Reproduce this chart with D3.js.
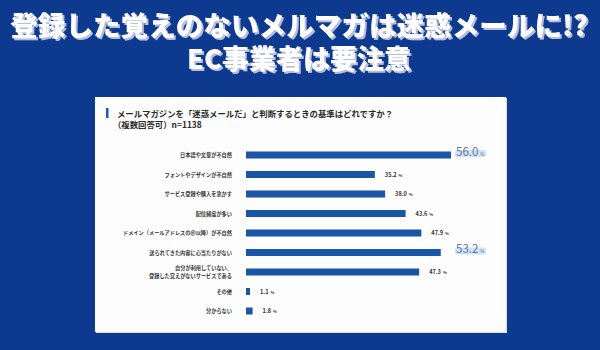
<!DOCTYPE html>
<html><head><meta charset="utf-8">
<script src="https://cdn.jsdelivr.net/npm/d3@7"></script>
<style>
html,body{margin:0;padding:0;background:#0d3a8e;}
svg{display:block;font-family:"Noto Sans CJK JP","Noto Sans",sans-serif;}
</style></head>
<body><svg id="c" width="600" height="350"></svg>
<script>
const titleLines = ["登録した覚えのないメルマガは迷惑メールに!?", "EC事業者は要注意"];
const questionLines = ["メールマガジンを「迷惑メールだ」と判断するときの基準はどれですか？", "（複数回答可）n=1138"];
const categories = [
  ["日本語や文章が不自然"],
  ["フォントやデザインが不自然"],
  ["サービス登録や購入を急かす"],
  ["配信頻度が多い"],
  ["ドメイン（メールアドレスの＠以降）が不自然"],
  ["送られてきた内容に心当たりがない"],
  ["自分が利用していない、", "登録した覚えがないサービスである"],
  ["その他"],
  ["分からない"]
];
const values = [56.0, 35.2, 38.0, 43.6, 47.9, 53.2, 47.3, 1.1, 1.8];
const highlighted = [true, false, false, false, false, true, false, false, false];

const svg = d3.select("#c");
const defs = svg.append("defs");
const f = defs.append("filter").attr("id","sh").attr("x","-5%").attr("y","-20%").attr("width","110%").attr("height","150%");
f.append("feDropShadow").attr("dx",2).attr("dy",2).attr("stdDeviation",0.4)
  .attr("flood-color","#b5bde0").attr("flood-opacity",1);

svg.append("rect").attr("width",600).attr("height",350).attr("fill","#0d3a8e");

// title
const tg = svg.append("g");
titleLines.forEach((t,i)=>{
  const y = [36, 69][i];
  tg.append("text").attr("x",299).attr("y",y).attr("text-anchor","middle")
    .attr("font-size",[27.6,27][i]).attr("font-weight",900).attr("fill","#ffffff")
    .attr("filter","url(#sh)").text(t);
});

// panel
svg.append("rect").attr("x",96).attr("y",98).attr("width",411).attr("height",235).attr("fill","#d9dde6");
svg.append("rect").attr("x",95).attr("y",97).attr("width",411).attr("height",235).attr("fill","#fdfdfd");
svg.append("rect").attr("x",106).attr("y",108).attr("width",2.5).attr("height",10).attr("fill","#1b5aa8");
questionLines.forEach((t,i)=>{
  svg.append("text").attr("x", i===0?117:113).attr("y",117+i*10.5)
    .attr("font-size",8.4).attr("font-weight",700).attr("fill","#2a2a2a").text(t);
});

const x = d3.scaleLinear().domain([0, 56]).range([246, 451]);
const y = d3.scaleBand().domain(d3.range(values.length)).range([145.25, 320.75])
  .paddingInner(0.64).paddingOuter(0.32);

const g = svg.append("g");
g.selectAll("rect.bar").data(values).join("rect").attr("class","bar")
  .attr("x", x(0)).attr("y",(d,i)=>y(i)).attr("width",d=>x(d)-x(0)).attr("height",y.bandwidth())
  .attr("fill","#1b55a6");

// category labels
categories.forEach((lines,i)=>{
  const cy = y(i)+y.bandwidth()/2;
  const t = g.append("text").attr("x",232).attr("text-anchor","end")
    .attr("font-size",5.2).attr("font-weight",700).attr("fill","#333");
  lines.forEach((l,j)=>{
    t.append("tspan").attr("x",232).attr("y", cy + 2 + (j-(lines.length-1)/2)*8).text(l);
  });
});

// value labels
const xMax = x(d3.max(values));
values.forEach((v,i)=>{
  const cy = y(i)+y.bandwidth()/2;
  if(highlighted[i]){
    const lx = xMax + 5;
    g.append("rect").attr("x",lx-1).attr("y",cy-5).attr("width",31).attr("height",7)
      .attr("fill","#d3e3f4").attr("rx",2);
    const t = g.append("text").attr("x",lx).attr("y",cy+0.5).attr("font-size",11.5)
      .attr("fill","#5b78a8");
    t.append("tspan").text(v.toFixed(1));
    t.append("tspan").attr("font-size",4.5).attr("dx",2).text("%");
  } else {
    const t = g.append("text").attr("x",x(v)+10).attr("y",cy+2).attr("font-size",5.6)
      .attr("font-weight",700).attr("fill","#333");
    t.append("tspan").text(v.toFixed(1));
    t.append("tspan").attr("font-size",4).attr("dx",2).text("%");
  }
});
</script></body></html>
